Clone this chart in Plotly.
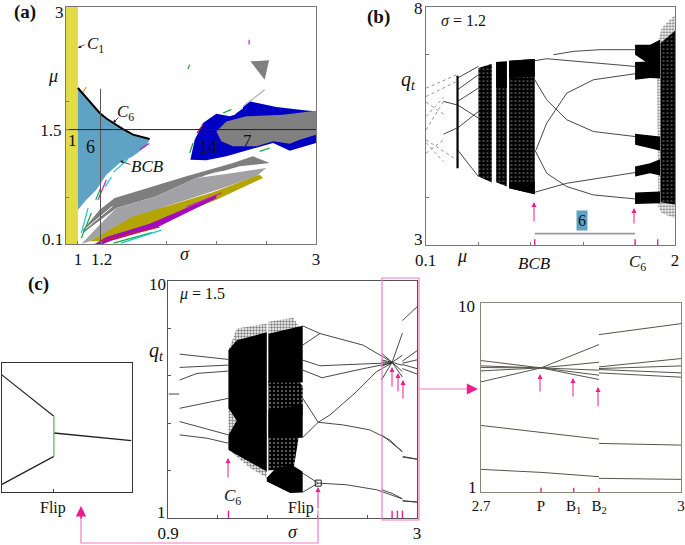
import plotly.graph_objects as go

W, H = 685, 545
SERIF = "Liberation Serif"
PINK = "#EE1C8E"
FRAME_PINK = "#F07CBE"

# ---------- panel (a): regions in (sigma, mu)
yellow_s = [0.9, 1.0, 1.0, 0.9]
yellow_m = [0.1, 0.1, 3.0, 3.0]
c6_curve_s = [1.0, 1.071, 1.127, 1.183, 1.239, 1.295, 1.379, 1.463, 1.53, 1.603]
c6_curve_m = [2.009, 1.886, 1.79, 1.703, 1.635, 1.58, 1.505, 1.438, 1.41, 1.385]
p6_s = c6_curve_s + [1.575, 1.463, 1.351, 1.239, 1.155, 1.071, 1.0]
p6_m = c6_curve_m + [1.295, 1.173, 1.091, 0.948, 0.765, 0.642, 0.52]
p14_s = [1.945, 1.981, 2.051, 2.163, 2.275, 2.317, 2.443, 2.667, 2.92, 3.0, 3.0, 2.78, 2.64, 2.527, 2.247, 2.079]
p14_m = [1.132, 1.376, 1.58, 1.695, 1.662, 1.682, 1.846, 1.776, 1.735, 1.723, 1.336, 1.24, 1.335, 1.29, 1.173, 1.124]
p7_s = [2.163, 2.247, 2.415, 2.723, 3.0, 3.0, 2.864, 2.78, 2.64, 2.5, 2.303, 2.205]
p7_m = [1.478, 1.6, 1.662, 1.682, 1.731, 1.438, 1.377, 1.328, 1.356, 1.295, 1.295, 1.356]
tri_s = [2.449, 2.606, 2.569]
tri_m = [2.335, 2.347, 2.111]
dark_s = [1.043, 1.183, 1.309, 1.911, 2.303, 2.471, 2.611, 2.359, 2.163, 1.995, 1.659, 1.323, 1.043]
dark_m = [0.275, 0.52, 0.663, 0.928, 1.091, 1.173, 1.091, 1.05, 0.969, 0.908, 0.683, 0.54, 0.235]
light_s = [1.029, 1.183, 1.323, 1.659, 1.995, 2.303, 2.583, 2.499, 2.135, 1.743, 1.379, 1.099]
light_m = [0.1, 0.337, 0.54, 0.683, 0.908, 0.969, 1.03, 0.928, 0.744, 0.561, 0.357, 0.133]
olive_s = [1.099, 1.463, 2.135, 2.527, 2.555, 2.163, 1.603, 1.211]
olive_m = [0.133, 0.438, 0.732, 0.948, 0.907, 0.642, 0.316, 0.133]
purple_s = [1.141, 1.239, 1.603, 1.911, 2.163, 2.163, 1.659, 1.28, 1.211]
purple_m = [0.1, 0.186, 0.349, 0.54, 0.7, 0.66, 0.3, 0.14, 0.1]
white_s = [2.06, 2.163, 2.4, None, 1.05, 1.29, None, 2.387, 2.303]
white_m = [0.93, 0.975, 1.02, None, 0.27, 0.56, None, 1.764, 1.682]
streaks = {
    "#12A83C": ([1.113, 1.029, None, 1.967, 1.939, None, 2.219, 2.289, None, 1.939, 1.925, None, 2.527, 2.611, None, 1.19, 1.15, None, 1.3, 1.62],
                [0.479, 0.173, None, 1.336, 1.213, None, 1.703, 1.744, None, 2.294, 2.241, None, 1.234, 1.275, None, 0.78, 0.64, None, 0.11, 0.24]),
    "#10C8D8": ([1.085, 1.029, None, 1.28, 1.23, None, 1.42, 1.3, None, 1.36, 1.7], [0.54, 0.235, None, 0.92, 0.8, None, 1.14, 0.98, None, 0.11, 0.27]),
    "#C020D0": ([1.239, 1.169, None, 2.438, 2.438, None, 1.911, 2.205, None, 1.6, 1.52], [0.887, 0.642, None, 2.6, 2.54, None, 0.553, 0.724, None, 1.33, 1.26]),
    "#D02020": ([1.183, 1.687, None, 2.0, 2.051], [0.133, 0.308, None, 1.458, 1.56]),
    "#E0A040": ([1.04, 1.07], [1.95, 2.02]),
    "#B0B0B0": ([2.569, 2.387], [1.988, 1.784]),
}
sigma_cut = [1.19, 1.19]
sigma_cut_m = [0.1, 2.0]
mu_cut = [0.9, 3.0]
mu_cut_m = [1.5, 1.5]

# ---------- panel (b): bifurcation vs mu at sigma = 1.2
b_lines = [
    ([1.074, 1.226, 1.429, 1.696], [6.997, 7.068, 7.103, 7.103]),
    ([0.932, 1.023, 1.696], [6.871, 6.913, 6.752]),
    ([0.942, 1.023, 1.176, 1.379, 1.696], [4.999, 5.56, 6.191, 6.471, 6.598]),
    ([0.932, 1.023, 1.176, 1.379, 1.696], [6.471, 6.05, 5.63, 5.384, 5.279]),
    ([0.932, 1.176, 1.696], [4.108, 4.297, 4.522]),
    ([0.932, 1.023, 1.176, 1.379, 1.696], [4.999, 4.508, 4.227, 4.052, 3.968]),
    ([0.237, 0.338], [6.016, 5.945]), ([0.237, 0.338], [5.328, 5.455]),
    ([0.344, 0.503], [6.507, 6.752]), ([0.344, 0.503], [6.261, 6.577]),
    ([0.344, 0.503], [6.016, 6.296]), ([0.344, 0.503], [5.945, 5.665]),
    ([0.344, 0.503], [5.455, 5.805]), ([0.344, 0.503], [4.999, 4.438]),
]
b_fan = [
    ([0.105, 0.338], [6.296, 6.577]), ([0.105, 0.338], [6.121, 6.436]),
    ([0.105, 0.237], [5.42, 6.016]), ([0.105, 0.237], [5.7, 6.1]),
    ([0.105, 0.338], [5.209, 4.788]), ([0.105, 0.237], [4.929, 5.209]),
    ([0.105, 0.237], [5.15, 4.75]), ([0.105, 0.237], [6.0, 5.75]),
]
b_bar_mu = [0.344, 0.344]
b_bar_q = [6.556, 4.613]
b_speckle = [
    ([0.503, 0.605, 0.605, 0.503], [6.717, 6.808, 4.311, 4.438]),
    ([0.638, 0.719, 0.719, 0.638], [6.843, 6.857, 4.227, 4.318]),
    ([0.737, 0.932, 0.932, 0.737], [6.871, 6.906, 4.066, 4.192]),
]
b_solid = [
    ([0.737, 0.932, 0.932, 0.737], [6.871, 6.906, 6.542, 6.507]),
    ([0.737, 0.932, 0.932, 0.737], [4.311, 4.332, 4.066, 4.192]),
    ([0.638, 0.719, 0.719, 0.638], [6.843, 6.857, 6.3, 6.3]),
]
b_bands = [
    ([1.696, 1.81, 1.886, 1.886, 1.81, 1.696], [7.208, 7.208, 7.313, 6.892, 6.787, 6.997]),
    ([1.696, 1.81, 1.886, 1.886, 1.81, 1.696], [6.843, 6.857, 6.9, 6.5, 6.506, 6.471]),
    ([1.696, 1.886, 1.886, 1.81, 1.696], [5.335, 5.28, 4.98, 5.034, 5.104]),
    ([1.696, 1.81, 1.886, 1.886, 1.81, 1.696], [4.648, 4.718, 4.8, 4.46, 4.508, 4.438]),
    ([1.696, 1.886, 1.886, 1.696], [4.101, 4.122, 3.877, 3.863]),
]
b_chaos_mu = [1.861, 1.899, 2.0, 2.0, 1.899, 1.873]
b_chaos_q = [7.173, 7.558, 7.839, 3.561, 3.666, 3.806]
b_core_mu = [1.89, 2.0, 2.0, 1.89]
b_core_q = [7.243, 7.5, 3.85, 3.9]
b_window_mu = [0.932, 1.696]
b_window_q = [3.24, 3.24]
b_marks = [0.932, 1.696, 1.868]

# ---------- panel (c): bifurcation vs sigma at mu = 1.5
c_lines = [
    ([0.998, 1.41], [7.223, 7.021]), ([0.998, 1.41], [6.718, 6.807]),
    ([0.998, 1.144, 1.41], [6.239, 6.491, 6.579]), ([0.998, 1.41], [5.166, 5.544]),
    ([0.998, 1.41], [4.661, 4.156]), ([0.998, 1.228, 1.41], [4.156, 4.03, 3.84]),
    ([0.906, 0.995], [5.708, 5.708]),
    ([2.036, 2.181, 2.546, 2.793], [8.296, 8.006, 7.564, 6.908]),
    ([2.036, 2.181], [7.564, 8.006]),
    ([2.036, 2.181, 2.793], [6.996, 6.781, 6.895]),
    ([2.036, 2.2, 2.49, 2.793], [6.617, 6.327, 6.617, 6.895]),
    ([2.036, 2.167, 2.266, 2.49, 2.658, 2.793], [5.544, 4.635, 4.913, 5.797, 6.554, 6.895]),
    ([2.036, 2.167], [4.055, 4.635]),
    ([2.167, 2.378, 2.602, 2.77, 2.874], [4.635, 4.534, 4.345, 3.966, 3.525]),
    ([2.882, 3.0], [3.335, 3.234]),
    ([2.036, 2.167], [2.704, 2.325]), ([2.036, 2.167], [1.98, 2.325]),
    ([2.167, 2.406, 2.658, 2.874], [2.325, 2.262, 2.073, 1.732]),
    ([2.882, 3.0], [1.656, 1.606]),
]
c_fuzz = [
    ([1.41, 1.48, 1.733, 1.733, 1.593, 1.41], [7.375, 8.195, 8.385, 2.53, 2.9, 3.588]),
    ([1.747, 1.957, 2.0, 2.0, 1.747], [8.448, 8.6, 8.3, 6.0, 6.0]),
]
c_speckle = [
    ([1.747, 2.0, 2.036, 2.036, 1.96, 1.747], [6.2, 6.2, 6.0, 5.0, 2.9, 2.8]),
]
c_solid = [
    ([1.41, 1.48, 1.733, 1.733, 1.48, 1.41, 1.41, 1.48, 1.41], [7.375, 7.75, 8.05, 2.77, 3.4, 3.588, 4.156, 4.7, 5.166]),
    ([1.747, 2.036, 2.036, 1.747], [8.0, 8.296, 6.15, 6.15]),
    ([1.747, 2.036, 2.036, 1.747], [5.1, 5.3, 4.05, 4.05]),
    ([1.733, 1.81, 1.95, 2.036, 2.036, 1.93, 1.733], [2.53, 2.9, 3.0, 2.76, 1.972, 1.947, 2.389]),
]
flip_sigma = [2.167]
flip_q = [2.325]
c_marks = [1.41, 2.79, 2.835, 2.877]

# ---------- panel (d): zoom of the period-6 orbits, shared with panel (c)
d_lines = [
    ([2.7, 2.79, 2.877], [6.245, 6.91, 8.019]),
    ([2.7, 2.79, 2.877], [7.259, 6.91, 6.356]),
    ([2.7, 2.79, 2.877], [7.005, 6.91, 6.562]),
    ([2.7, 2.79, 2.877], [6.926, 6.91, 6.8]),
    ([2.7, 2.79, 2.877], [6.767, 6.91, 7.18]),
    ([2.7, 2.877], [4.169, 3.519]),
    ([2.7, 2.79, 2.877], [2.077, 1.935, 1.729]),
    ([2.877, 3.0], [8.495, 9.017]),
    ([2.877, 3.0], [6.958, 7.354]),
    ([2.877, 3.0], [6.878, 7.005]),
    ([2.877, 3.0], [6.831, 6.672]),
    ([2.877, 3.0], [6.672, 6.467]),
    ([2.877, 3.0], [3.313, 3.234]),
    ([2.877, 3.0], [1.65, 1.602]),
]
d_marks = [2.79, 2.839, 2.877]

# ---------- inset: the flip point
e_left_x = [0.0, 0.403]
e_top_y = [0.91, 0.587]
e_bot_y = [0.057, 0.276]
e_right_x = [0.403, 1.0]
e_right_y = [0.457, 0.398]
e_green_x = [0.403, 0.403]
e_green_y = [0.587, 0.276]

fig = go.Figure()


def poly(n, xs, ys, color):
    fig.add_trace(go.Scatter(x=xs, y=ys, xaxis=f"x{n}", yaxis=f"y{n}", mode="none", fill="toself",
                             fillcolor=color, hoverinfo="skip", showlegend=False))


def speckle(n, xs, ys, solidity=0.2, size=4, fg="white", bg="black"):
    fig.add_trace(go.Scatter(x=xs, y=ys, xaxis=f"x{n}", yaxis=f"y{n}", mode="none", fill="toself",
                             fillcolor=bg, hoverinfo="skip", showlegend=False,
                             fillpattern=dict(shape=".", fgcolor=fg, bgcolor=bg, size=size, solidity=solidity)))


def line(n, xs, ys, color="#303030", width=1.0, dash=None):
    fig.add_trace(go.Scatter(x=xs, y=ys, xaxis=f"x{n}", yaxis=f"y{n}", mode="lines", hoverinfo="skip",
                             showlegend=False, line=dict(color=color, width=width, dash=dash)))


# (a)
poly(1, yellow_s, yellow_m, "#E2DB45")
poly(1, p6_s, p6_m, "#5FA2C3")
poly(1, p14_s, p14_m, "#0000C4")
poly(1, p7_s, p7_m, "#808080")
poly(1, tri_s, tri_m, "#808080")
poly(1, dark_s, dark_m, "#7E7E7E")
poly(1, light_s, light_m, "#A2A2A6")
poly(1, olive_s, olive_m, "#B3A600")
poly(1, purple_s, purple_m, "#A40ABE")
line(1, white_s, white_m, "white", 1.0)
for col, (sx, sy) in streaks.items():
    line(1, sx, sy, col, 1.2)
line(1, c6_curve_s, c6_curve_m, "black", 2)
line(1, sigma_cut, sigma_cut_m, "#555555", 1)
line(1, mu_cut, mu_cut_m, "#222222", 1)

# (b)
for xs, ys in b_fan:
    line(2, xs, ys, "#777777", 0.8, "dot")
for xs, ys in b_speckle:
    speckle(2, xs, ys, 0.14, 4)
for xs, ys in b_solid:
    poly(2, xs, ys, "black")
speckle(2, b_chaos_mu, b_chaos_q, 0.45, 3, "black", "white")
speckle(2, b_core_mu, b_core_q, 0.14, 4)
for xs, ys in b_bands:
    poly(2, xs, ys, "black")
for xs, ys in b_lines:
    line(2, xs, ys, "#333333", 0.9)
line(2, b_bar_mu, b_bar_q, "black", 2.2)
line(2, b_window_mu, b_window_q, "#9A9A9A", 1.6)
for m in b_marks:
    line(2, [m, m], [3.0, 3.12], PINK, 1.4)

# (c)
for xs, ys in c_fuzz:
    speckle(3, xs, ys, 0.5, 3, "black", "white")
for xs, ys in c_speckle:
    speckle(3, xs, ys, 0.16, 4)
for xs, ys in c_solid:
    poly(3, xs, ys, "black")
for xs, ys in c_lines:
    line(3, xs, ys, "#333333", 0.9)
for xs, ys in d_lines:
    line(3, xs, ys, "#333333", 0.9)
fig.add_trace(go.Scatter(x=flip_sigma, y=flip_q, xaxis="x3", yaxis="y3", mode="markers", hoverinfo="skip",
                         showlegend=False, marker=dict(symbol="square-open", size=6, color="#222222", line=dict(width=1))))
for m in c_marks:
    line(3, [m, m], [1.0, 1.28], PINK, 1.4)

# (d)
for xs, ys in d_lines:
    line(4, xs, ys, "#55554A", 1.0)
for m in d_marks:
    line(4, [m, m], [1.0, 1.2], PINK, 1.4)

# inset
line(5, e_left_x, e_top_y, "#222222", 1.2)
line(5, e_left_x, e_bot_y, "#222222", 1.2)
line(5, e_right_x, e_right_y, "#222222", 1.4)
line(5, e_green_x, e_green_y, "#5CC85C", 1.4)


def dom_x(a, b):
    return [a / W, b / W]


def dom_y(top, bot):
    return [1 - bot / H, 1 - top / H]


def axis(dom, rng, tickvals, ticktext, anchor, minor_vals=(), color="#777777", size=17):
    return dict(domain=dom, range=rng, anchor=anchor, tickmode="array", tickvals=tickvals, ticktext=ticktext,
                showgrid=False, zeroline=False, showline=True, mirror=True, linecolor=color, linewidth=1,
                ticks="", tickfont=dict(family=SERIF, size=size, color="#111111"),
                minor=dict(tickmode="array", tickvals=list(minor_vals), ticks="inside", ticklen=3,
                           tickcolor=color, showgrid=False),
                automargin=False, fixedrange=True)


fig.update_layout(
    width=W, height=H, autosize=False, margin=dict(l=0, r=0, t=0, b=0),
    paper_bgcolor="white", plot_bgcolor="white", showlegend=False,
    xaxis=axis(dom_x(66, 316), [0.9, 3], [1, 1.2, 3], ["1", "1.2", "3"], "y", [1, 1.2, 1.743, 2.163, 2.583]),
    yaxis=axis(dom_y(7, 244), [0.1, 3], [1.5], ["1.5"], "x", [0.67, 1.5, 1.846]),
    xaxis2=axis(dom_x(425.5, 675), [0.1, 2], [0.1, 2], ["0.1", "2"], "y2", [0.5, 0.9, 1.3, 1.7]),
    yaxis2=axis(dom_y(7, 245), [3, 8], [], [], "x2", [4, 7]),
    xaxis3=axis(dom_x(168, 417), [0.9, 3], [0.9, 3], ["0.9", "3"], "y3", [1.32, 1.74, 2.16, 2.58], "#555555"),
    yaxis3=axis(dom_y(281, 518), [1, 10], [], [], "x3", [2.8, 4.6, 6.4, 8.2], "#555555"),
    xaxis4=axis(dom_x(481, 681), [2.7, 3], [2.7, 2.79, 2.839, 2.877, 3],
                ["2.7", "P", "B<sub>1</sub>", "B<sub>2</sub>", "3"], "y4", (), "#8A8A78", 15),
    yaxis4=axis(dom_y(303, 492), [1, 10], [], [], "x4", (), "#8A8A78"),
    xaxis5=axis(dom_x(1.5, 131.5), [0, 1], [], [], "y5", [0.403], "#333333"),
    yaxis5=axis(dom_y(363, 492), [0, 1], [], [], "x5", (), "#333333"),
)


def text(t, px, py, size=15, **kw):
    fig.add_annotation(text=t, x=px / W, y=1 - py / H, xref="paper", yref="paper", showarrow=False,
                       font=dict(family=SERIF, size=size, color="#111111"), xanchor="center", yanchor="middle", **kw)


def arrow(x0, y0, x1, y1, color=PINK, width=1.0, head=2, size=1.0):
    fig.add_annotation(x=x1 / W, y=1 - y1 / H, ax=x0 - x1, ay=y0 - y1, xref="paper", yref="paper",
                       axref="pixel", ayref="pixel", text="", showarrow=True, arrowhead=head,
                       arrowcolor=color, arrowwidth=width, arrowsize=size)


for label, px, py in [("(a)", 25, 12), ("(b)", 379, 17), ("(c)", 38, 284)]:
    text(f"<b>{label}</b>", px, py, 19)

# y-axis end labels sit off the tick positions in the reference
for lab, px, py in [("3", 59, 12), ("0.1", 52, 239), ("8", 418, 9), ("3", 418, 239),
                    ("10", 157, 284), ("1", 161, 512), ("10", 466, 306), ("1", 472, 487)]:
    text(lab, px, py, 17)

# (a) labels
text("<i>μ</i>", 53, 76, 18)
text("<i>σ</i>", 185, 254, 18)
text("<i>C</i><sub>1</sub>", 95, 45, 17)
text("<i>C</i><sub>6</sub>", 125, 113, 17)
text("<i>BCB</i>", 147, 166, 17)
text("1", 72, 141, 17)
text("6", 90, 147, 18)
text("14", 208, 147, 18)
text("7", 247, 140, 17)
arrow(86, 44, 78, 48, "#222222", 0.8, 2, 0.8)
arrow(120, 116, 113, 123, "#222222", 0.8, 2, 0.8)
arrow(132, 165, 120, 161, "#222222", 0.8, 2, 0.8)

# (b) labels
text("<i>σ</i> = 1.2", 463, 21, 16)
text("<i>q<sub>t</sub></i>", 408, 80, 20)
text("<i>μ</i>", 462, 256, 18)
text("<i>BCB</i>", 534, 263, 17)
text("<i>C</i><sub>6</sub>", 637, 263, 17)
text("6", 582, 221, 16, bgcolor="#5FA2C3")
arrow(534, 223, 534, 202)
arrow(634, 225, 634, 208)

# (c) labels
text("<i>q<sub>t</sub></i>", 156, 351, 20)
text("<i>μ</i> = 1.5", 202, 294, 16)
text("<i>σ</i>", 293, 532, 18)
text("<i>C</i><sub>6</sub>", 232, 497, 17)
text("Flip", 301, 508, 16)
arrow(228, 479, 228, 458)
arrow(318, 510, 318, 487)
arrow(392, 388, 392, 367)
arrow(398, 393, 398, 373)
arrow(403, 400, 403, 380)

# (d) arrows
arrow(540, 393, 540, 374)
arrow(573, 398, 573, 378)
arrow(598, 408, 598, 387)

# inset label
text("Flip", 53, 508, 16)

# zoom frame and connectors
fig.add_shape(type="rect", xref="paper", yref="paper", x0=382 / W, x1=419 / W, y0=1 - 520 / H, y1=1 - 278 / H,
              line=dict(color=FRAME_PINK, width=1.2))
fig.add_shape(type="line", xref="paper", yref="paper", x0=419 / W, x1=470 / W, y0=1 - 389 / H, y1=1 - 389 / H,
              line=dict(color=FRAME_PINK, width=1.2))
arrow(466, 389, 478, 389, PINK, 1.6, 2, 1.4)
fig.add_shape(type="path", xref="paper", yref="paper",
              path=f"M {318 / W} {1 - 510 / H} L {318 / W} {1 - 543 / H} L {81 / W} {1 - 543 / H} L {81 / W} {1 - 515 / H}",
              line=dict(color=FRAME_PINK, width=1.2))
arrow(81, 520, 81, 506, PINK, 1.6, 2, 1.3)

fig.write_html("out.html", config={"displayModeBar": False},
               post_script="document.body.style.margin='0';document.body.style.overflow='hidden';")
